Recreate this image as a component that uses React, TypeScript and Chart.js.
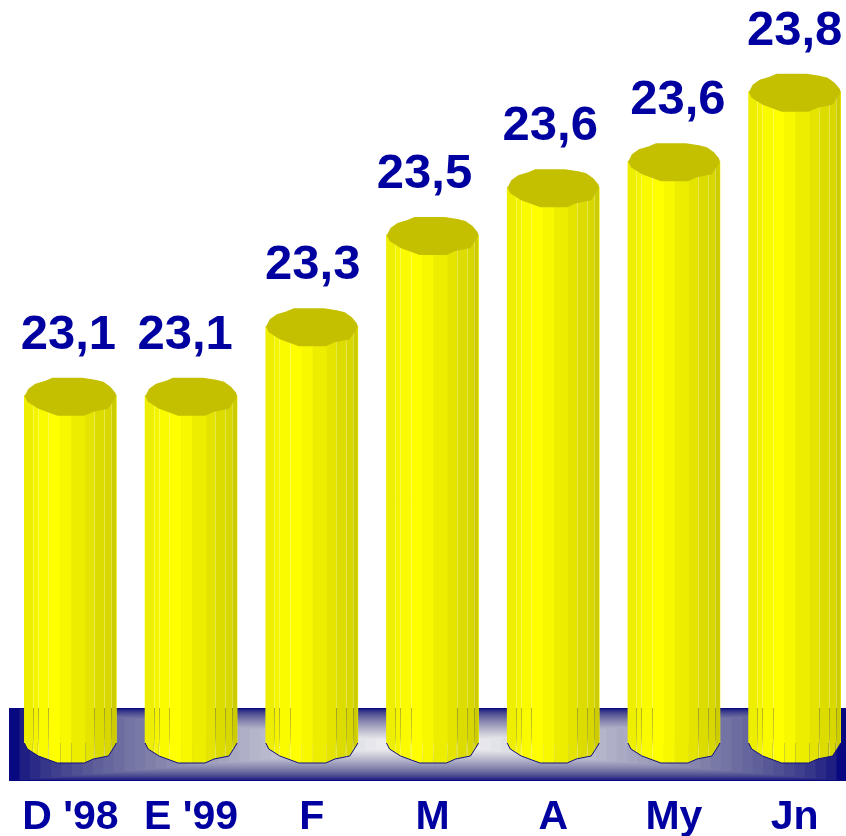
import React, { useEffect, useRef } from "react";
import { Chart, registerables } from "chart.js";

Chart.register(...registerables);

const categories = ["D '98", "E '99", "F", "M", "A", "My", "Jn"];
const seriesValues = [23.1, 23.1, 23.26, 23.47, 23.58, 23.64, 23.8];
const valueLabels = ["23,1", "23,1", "23,3", "23,5", "23,6", "23,6", "23,8"];

// horizontal nudge of each value label relative to its bar
const labelNudge = [-2, -6, 1, -8, -3, 4, 0];

const NAVY = [8, 8, 128];
const TEXT = "#0000A0";
const FONT = "'Liberation Sans', Arial, sans-serif";
const FLOOR = { left: 9, right: 847, top: 708, bottom: 781 };

// cylinder shape, as offsets from the bar's centre and its side top / base
const frontEdge: [number, number][] = [[-46, 0], [-43, 6], [-32, 13], [-13, 20], [14, 20], [23, 16], [38, 13], [45, 2], [46, 0]];
const backEdge: [number, number][] = [[46, 0], [45, -3], [40, -9], [33, -14], [25, -16], [12, -18], [-18, -18], [-25, -15], [-35, -12], [-42, -7], [-45, -1]];
const facets: [number, string][] = [
  [-46, "#eeee00"], [-37.5, "#f4f400"], [-32.5, "#fbfb00"], [-22, "#ffff00"], [-10, "#f8f800"],
  [1, "#eded00"], [15, "#e4e400"], [24, "#dcdc00"], [34, "#d8d800"], [41, "#cccc00"], [46, ""],
];

const mix = (t: number) => {
  const k = Math.pow(t, 0.65);
  const kb = Math.pow(k, 1.5);
  const r = Math.round(NAVY[0] + (255 - NAVY[0]) * k);
  const b = Math.round(NAVY[2] + (255 - NAVY[2]) * kb);
  return `rgb(${r},${r},${b})`;
};

const cylinderPlugin = {
  id: "cylinders",
  beforeDatasetsDraw(chart: any) {
    const { ctx } = chart;
    const hw = (FLOOR.right - FLOOR.left) / 2;
    const bands = 40;
    ctx.save();
    for (let i = 0; i <= bands; i++) {
      const t = i / bands;
      const ix = t * hw;
      const iy = t * 36;
      ctx.fillStyle = mix(t);
      ctx.fillRect(FLOOR.left + ix, FLOOR.top + iy, FLOOR.right - FLOOR.left - 2 * ix, FLOOR.bottom - FLOOR.top - 2 * iy);
    }
    ctx.restore();
  },
  afterDatasetsDraw(chart: any) {
    const { ctx } = chart;
    const meta = chart.getDatasetMeta(0);
    const base = chart.scales.y.bottom;
    meta.data.forEach((bar: any, i: number) => {
      const x = bar.x;
      const y = bar.y;
      ctx.save();
      // body outline
      ctx.beginPath();
      ctx.moveTo(x - 46, y);
      ctx.lineTo(x + 46, y);
      for (let k = frontEdge.length - 1; k >= 0; k--) ctx.lineTo(x + frontEdge[k][0], base + frontEdge[k][1]);
      ctx.closePath();
      ctx.save();
      ctx.clip();
      for (let k = 0; k < facets.length - 1; k++) {
        ctx.fillStyle = facets[k][1];
        ctx.fillRect(x + facets[k][0], y - 2, facets[k + 1][0] - facets[k][0], base - y + 30);
      }
      // facet seams are see-through: they show what lies behind the cylinder
      const seamFull = ctx.createLinearGradient(0, y, 0, base + 22);
      const span = base + 22 - y;
      const p = (v: number) => Math.min(1, Math.max(0, (v - y) / span));
      seamFull.addColorStop(0, "rgba(255,255,230,0.3)");
      seamFull.addColorStop(p(FLOOR.top - 0.5), "rgba(255,255,230,0.3)");
      seamFull.addColorStop(p(FLOOR.top + 0.5), "rgba(70,70,90,0.4)");
      seamFull.addColorStop(p(FLOOR.top + 30), "rgba(130,130,90,0.35)");
      seamFull.addColorStop(p(FLOOR.top + 40), "rgba(255,255,230,0.3)");
      seamFull.addColorStop(1, "rgba(255,255,230,0.3)");
      ctx.strokeStyle = seamFull;
      ctx.lineWidth = 1;
      [1, 2, 3, 7, 8, 9].forEach((k) => {
        ctx.beginPath();
        ctx.moveTo(Math.round(x + facets[k][0]) + 0.5, y);
        ctx.lineTo(Math.round(x + facets[k][0]) + 0.5, base + 22);
        ctx.stroke();
      });
      ctx.restore();
      // front outline at the floor
      ctx.beginPath();
      frontEdge.forEach(([dx, dy], k) => {
        if (k === 0) ctx.moveTo(x + dx, base + dy);
        else ctx.lineTo(x + dx, base + dy);
      });
      ctx.strokeStyle = "#101080";
      ctx.lineWidth = 1;
      ctx.stroke();
      // top cap
      ctx.beginPath();
      frontEdge.forEach(([dx, dy], k) => {
        if (k === 0) ctx.moveTo(x + dx, y + dy);
        else ctx.lineTo(x + dx, y + dy);
      });
      backEdge.forEach(([dx, dy]) => ctx.lineTo(x + dx, y + dy));
      ctx.closePath();
      ctx.fillStyle = "#C4C000";
      ctx.fill();
      // value label
      ctx.fillStyle = TEXT;
      ctx.font = `bold 49px ${FONT}`;
      ctx.textAlign = "center";
      ctx.textBaseline = "alphabetic";
      ctx.fillText(valueLabels[i], x + labelNudge[i], y - 47);
      ctx.restore();
    });
  },
};

export default function App() {
  const ref = useRef<HTMLCanvasElement>(null);
  useEffect(() => {
    const chart = new Chart(ref.current!, {
      type: "bar",
      data: {
        labels: categories,
        datasets: [{ data: seriesValues, backgroundColor: "#eeee00", borderWidth: 0, barThickness: 92 }],
      },
      options: {
        responsive: false,
        animation: false,
        layout: { padding: { left: 10, right: 6, top: 5, bottom: 0 } },
        plugins: { legend: { display: false }, tooltip: { enabled: false }, title: { display: false } },
        scales: {
          x: {
            grid: { display: false },
            border: { display: false },
            ticks: {
              color: TEXT,
              font: { family: FONT, size: 41, weight: "bold" },
              padding: 42,
              maxRotation: 0,
              autoSkip: false,
            },
            afterFit: (s: any) => {
              s.height = 93;
              s.paddingLeft = 0;
              s.paddingRight = 0;
            },
          },
          y: { display: false, min: 22.3, max: 24 },
        },
      },
      plugins: [cylinderPlugin],
    } as any);
    return () => chart.destroy();
  }, []);
  return (
    <div style={{ position: "absolute", left: 0, top: 0, width: 846, height: 836, overflow: "hidden", background: "#fff" }}>
      <canvas ref={ref} width={861} height={836} style={{ display: "block" }} />
    </div>
  );
}
